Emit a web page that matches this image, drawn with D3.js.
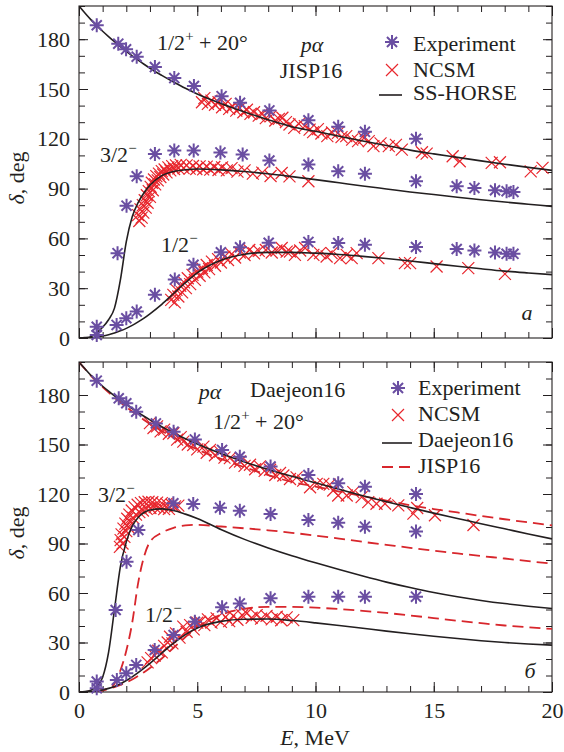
<!DOCTYPE html>
<html>
<head>
<meta charset="utf-8">
<script src="https://cdn.jsdelivr.net/npm/d3@7"></script>
<style>
  html, body { margin: 0; padding: 0; background: #fff; }
  svg { display: block; }
  text { font-family: "Liberation Serif", "Times New Roman", serif; fill: #231f20; }
</style>
</head>
<body>
<svg id="chart" width="564" height="752"></svg>
<script>
// ---- energy grid for the phase-shift curves (MeV) ----
const energyGrid = [0,0.25,0.5,0.75,1,1.25,1.5,1.75,2,2.25,2.5,2.75,3,3.5,4,4.5,5,6,7,8,9,10,11,12,13,14,15,16,17,18,19,20];

// JISP16 (SS-HORSE) phase shifts, degrees; 1/2+ already shifted by +20
const jispHalfPlus  = [200,195.8,191.8,188.2,184.8,181.6,178.5,175.5,172.7,170,167.4,164.9,162.5,158.2,154.2,150.4,147,141.3,136.2,131.5,127.3,124.5,121.5,118.7,116,113.2,110.9,108.8,106.7,104.7,102.8,101];
const jispThreeMinus = [0,0.2,0.8,3.2,6.5,11,18,35,58,73,81.5,87.5,92,97.8,100.3,101.4,101.8,101.3,100.3,98.9,97.2,95.4,93.5,91.6,89.8,88,86.4,84.8,83.3,81.9,80.6,79.3];
const jispHalfMinus = [0,0.05,0.2,0.6,1.2,2,3,4.3,5.8,7.6,9.7,12,14.6,20.3,26.8,33.3,39.2,46.8,50.4,51.6,51.6,51.1,50.3,49.2,47.9,46.4,44.8,43.2,41.7,40.3,39.2,38.2];
// JISP16 3/2- curve as drawn in the Daejeon16 comparison
const jispThreeMinusB = [0,0,0.2,0.5,1,2,5,13,25,42,66,82,91,96.5,99.5,101,101.3,100.3,99.2,98,96.5,94.8,93,91,89.2,87.4,85.7,84,82.4,80.9,79.3,77.8];

// Daejeon16 phase shifts, degrees
const daejeonHalfPlus  = [200,195.9,192,188.5,185.3,182.3,179.5,176.8,174.3,171.8,169.4,167.1,164.9,160.8,157,153.5,150.3,144.5,139.4,134.9,130.7,126.8,122.9,119,115.3,111.8,108.4,105.2,102,98.9,95.8,92.8];
const daejeonThreeMinus = [0,0.2,1,3.5,9,24,50,76,91,100.5,105.8,108.8,110.3,111,110,107.8,105.2,98.5,92.5,87.3,82.6,78.3,74.2,70.3,66.6,63.3,60.3,57.7,55.5,53.6,52,50.6];
const daejeonHalfMinus = [0,0.05,0.2,0.6,1.3,2.2,3.4,5,7,9.2,11.7,14.4,17.3,23.5,29.6,34.8,38.8,42.8,44.1,44.2,43.3,41.9,40.3,38.6,36.9,35.3,33.8,32.4,31.1,30,29.1,28.4];

// ---- experimental phase shifts [E, δ] ----
const expA_halfPlus = [[0.75,188.4],[1.66,177.3],[1.99,173.9],[2.44,169.5],[3.21,163.2],[4.03,156.6],[4.86,151.8],[6.03,145.7],[6.81,141.7],[8.05,137.1],[9.7,131.2],[10.96,127.2],[12.09,124.2],[14.25,120]];
const expA_threeMinus = [[0.75,6.8],[1.63,51.1],[2.01,79.7],[2.44,97.4],[3.21,110.8],[4.03,113],[4.85,113],[5.98,111.8],[6.92,110.5],[8.05,106.9],[9.7,104.5],[10.96,100.4],[12.09,99],[14.25,94.4],[15.97,91.4],[16.72,90.4],[17.59,89],[18.08,88.4],[18.37,88]];
const expA_halfMinus = [[0.75,1.8],[1.59,7.9],[2.0,11.9],[2.44,15.9],[3.21,26],[4.05,35.2],[4.84,44.1],[6.0,51.6],[6.81,54.6],[8.02,57.4],[9.7,57.9],[10.96,57.2],[12.09,56.2],[14.25,54.8],[15.97,53.6],[16.72,52.7],[17.59,51.5],[18.08,50.7],[18.37,50.7]];

const expB_halfPlus = [[0.75,188.7],[1.68,178],[2.0,175],[2.42,169.9],[3.25,162.8],[4.0,157.8],[4.9,153.1],[6.05,146.7],[6.8,142.6],[8.1,136.6],[9.7,131.5],[10.96,126.5],[12.09,124.4],[14.25,120]];
const expB_threeMinus = [[0.75,6.3],[1.55,49.7],[2.01,79],[2.51,98.2],[3.99,114.4],[4.83,113.9],[5.96,111.7],[6.8,109.9],[8.1,107.9],[9.7,104.2],[10.96,102.6],[12.09,100.2],[14.25,97.2]];
const expB_halfMinus = [[0.75,2.2],[1.6,7.3],[2.0,11.3],[2.42,16.4],[3.2,25.5],[4.0,34.5],[4.9,42.6],[6.05,51.3],[6.8,53.7],[8.1,56.8],[9.7,57.8],[10.96,57.8],[12.09,57.8],[14.25,57.8]];

// ---- NCSM results [E, δ], JISP16 ----
const ncsmA_halfPlus = [[5.2,142],[5.3,144.5],[5.45,141],[5.6,143],[5.75,140.5],[5.9,142],[6.05,139],[6.2,141],[6.35,138],[6.5,139.5],[6.65,137],[6.8,138.5],[6.95,136],[7.1,137.5],[7.25,135],[7.4,136],[7.6,134],[7.75,135],[7.9,132.5],[8.1,133.5],[8.3,131],[8.45,132],[8.6,132.7],[8.75,130],[8.9,128.6],[9.1,126.6],[9.3,129],[9.55,127.6],[9.75,125.5],[9.9,124],[10.1,125.8],[10.25,123.2],[10.5,121.6],[10.7,123.8],[10.95,123.6],[11.1,121],[11.3,121.6],[11.55,119.5],[11.8,118.6],[12.05,120.5],[12.25,118.6],[12.45,115.6],[12.75,117.2],[13.1,115.6],[13.4,116.3],[13.65,113.5],[14.5,111.9],[14.7,111.1],[15.8,109.5],[16.1,106.5],[17.45,105.5],[17.8,105.9],[19.1,100.4],[19.6,102.5]];
const ncsmA_threeMinus = [[2.5,74],[2.55,70.5],[2.6,77.5],[2.65,72.5],[2.7,80],[2.72,75.5],[2.78,83],[2.82,78.5],[2.87,86],[2.9,81.5],[2.95,88.5],[3.0,85],[3.03,91],[3.08,93.5],[3.12,89],[3.17,95.5],[3.22,92.5],[3.27,97.5],[3.33,95],[3.38,99],[3.44,97],[3.5,100.5],[3.56,98.5],[3.62,101.5],[3.7,99.8],[3.78,102.8],[3.86,101],[3.94,103.5],[4.02,101.8],[4.1,104],[4.2,102.2],[4.3,104.3],[4.42,102.3],[4.55,104],[4.68,102],[4.82,103.6],[4.96,101.8],[5.1,103.4],[5.25,101.6],[5.4,103.2],[5.55,101.4],[5.72,103],[5.9,101.2],[6.05,102.8],[6.25,101],[6.45,102.3],[6.7,100.2],[7.0,101],[7.35,99],[7.75,99.6],[8.1,97.6],[8.57,99.4],[8.9,97.4],[9.7,94.4]];
const ncsmA_halfMinus = [[3.9,23],[3.99,26],[4.05,21.5],[4.12,29],[4.2,25],[4.28,31.5],[4.36,27.5],[4.44,33.5],[4.52,30],[4.6,36],[4.7,32.5],[4.8,38],[4.9,35],[5.0,40],[5.1,37.5],[5.2,42],[5.3,39.5],[5.4,44],[5.5,41.5],[5.62,46],[5.75,43.5],[5.88,47.5],[6.0,45.5],[6.15,49],[6.3,47],[6.45,50.5],[6.6,48.5],[6.8,51.5],[7.0,50],[7.2,53],[7.4,51],[7.6,52.5],[7.9,53],[8.15,51.5],[8.35,52.7],[8.57,54.2],[8.78,52],[8.92,52.1],[9.13,50.1],[9.35,52.7],[9.56,54.2],[9.91,50.1],[10.19,51.1],[10.47,49.1],[10.68,51.1],[11.04,48.1],[11.32,50.1],[11.53,48.1],[11.74,51.1],[12.66,48.1],[13.78,45.1],[14.0,45.1],[15.12,43.1],[16.46,42.1],[18.01,38.6]];

// ---- NCSM results [E, δ], Daejeon16 ----
const ncsmB_halfPlus = [[3.0,163],[3.15,160],[3.3,161],[3.45,158],[3.6,159],[3.8,156.5],[3.99,156.8],[4.15,153],[4.3,154.5],[4.41,151.7],[4.6,150],[4.83,149.7],[5.0,147],[5.26,148.7],[5.4,145],[5.54,146.7],[5.75,143.5],[5.96,145.7],[6.15,142],[6.38,141.7],[6.6,139],[6.81,139.7],[7.0,137],[7.23,137.7],[7.45,135],[7.65,136.7],[7.85,134],[8.08,134.7],[8.3,131.5],[8.5,132.7],[8.64,131.2],[8.92,129.1],[9.2,130.1],[9.48,128.1],[9.77,124.1],[10.05,126.1],[10.33,126.1],[10.6,125.7],[10.75,122.1],[10.96,119.1],[11.32,119.1],[11.6,121.1],[11.95,118.1],[12.23,115.1],[12.58,114.1],[12.94,114.1],[13.5,113.1],[14.14,108.1],[14.3,111.5],[15.05,107.1],[16.68,101.2]];
const ncsmB_threeMinus = [[1.73,88],[1.76,92],[1.8,95.5],[1.84,90],[1.88,99],[1.92,94],[1.96,102],[2.0,97.5],[2.04,105],[2.08,100],[2.13,107.5],[2.18,103],[2.23,110],[2.29,105.5],[2.35,112],[2.41,107.5],[2.48,113.5],[2.55,109],[2.62,114.5],[2.7,110],[2.78,115],[2.86,111],[2.94,115.3],[3.02,111.5],[3.1,115],[3.2,112],[3.3,114.8],[3.4,111.5],[3.5,114.5],[3.6,110.8],[3.7,114],[3.8,111],[3.92,113.5],[4.06,112.5],[4.2,113]];
const ncsmB_halfMinus = [[2.9,18],[3.05,20.5],[3.2,22],[3.35,25],[3.5,24],[3.6,28],[3.75,30],[3.85,33.5],[3.95,29.5],[4.1,35.5],[4.25,33],[4.41,39.6],[4.55,36.5],[4.7,40.5],[4.85,38],[5.0,42],[5.12,42.6],[5.3,40.5],[5.45,44],[5.6,42],[5.82,44.6],[6.0,42.5],[6.2,45.5],[6.35,43],[6.52,46.1],[6.7,43.8],[6.9,46.5],[7.09,47.7],[7.3,45],[7.51,46.6],[7.7,44.5],[7.93,46.1],[8.15,44],[8.36,45.6],[8.55,43.5],[8.78,45.2],[9.06,43.6]];

// ---- axis ticks ----
const xMinorTicks = d3.range(0, 21, 1);
const xMajorTicks = [0, 5, 10, 15, 20];
const yMinorTicks = d3.range(0, 201, 10);
const yMajorTicks = [0, 30, 60, 90, 120, 150, 180];

// ---- colours ----
const EXP_COLOR = "#6a4ea2";
const NCSM_COLOR = "#e8262d";
const DASH_COLOR = "#d8262c";
const INK = "#231f20";
const FONT = 22;

const svg = d3.select("#chart");
svg.append("rect").attr("width", 564).attr("height", 752).attr("fill", "#fff");

const x = d3.scaleLinear().domain([0, 20]).range([79, 552]);

function asteriskPath(r) {
  const d = r * 0.72;
  return `M${-r},0H${r}M0,${-r}V${r}M${-d},${-d}L${d},${d}M${-d},${d}L${d},${-d}`;
}
function crossPath(r) {
  return `M${-r},${-r}L${r},${r}M${-r},${r}L${r},${-r}`;
}

// text with optional superscript / italic runs: parts = [[text, isSup, italic]]
function richText(g, xPos, yPos, parts, anchor) {
  const t = g.append("text").attr("x", xPos).attr("y", yPos)
    .attr("font-size", FONT).attr("text-anchor", anchor || "start");
  let raised = false;
  parts.forEach(([s, sup, it]) => {
    const ts = t.append("tspan").text(s);
    if (sup) { ts.attr("font-size", FONT * 0.68).attr("dy", -9); raised = true; }
    else if (raised) { ts.attr("dy", 9); raised = false; }
    if (it) ts.attr("font-style", "italic");
  });
  return t;
}

function panel(opts) {
  const y = d3.scaleLinear().domain([0, 200]).range([opts.bottom, opts.top]);
  const g = svg.append("g");
  const clipId = "clip" + opts.id;
  svg.append("clipPath").attr("id", clipId).append("rect")
    .attr("x", x(0)).attr("y", y(200)).attr("width", x(20) - x(0)).attr("height", y(0) - y(200));

  // inward ticks on all four sides
  const axes = [
    [d3.axisBottom(x).tickValues(xMinorTicks).tickSize(-6), `translate(0,${y(0)})`],
    [d3.axisBottom(x).tickValues(xMajorTicks).tickSize(-10), `translate(0,${y(0)})`],
    [d3.axisTop(x).tickValues(xMinorTicks).tickSize(-6), `translate(0,${y(200)})`],
    [d3.axisTop(x).tickValues(xMajorTicks).tickSize(-10), `translate(0,${y(200)})`],
    [d3.axisLeft(y).tickValues(yMinorTicks).tickSize(-6), `translate(${x(0)},0)`],
    [d3.axisLeft(y).tickValues(yMajorTicks).tickSize(-9), `translate(${x(0)},0)`],
    [d3.axisRight(y).tickValues(yMinorTicks).tickSize(-6), `translate(${x(20)},0)`],
    [d3.axisRight(y).tickValues(yMajorTicks).tickSize(-9), `translate(${x(20)},0)`]
  ];
  axes.forEach(([ax, tr]) => {
    const a = g.append("g").attr("transform", tr).call(ax.tickFormat(""));
    a.select(".domain").remove();
    a.selectAll("line").attr("stroke", INK).attr("stroke-width", 1);
    a.selectAll("text").remove();
  });

  // y tick labels
  const yl = g.append("g").attr("transform", `translate(${x(0)},0)`)
    .call(d3.axisLeft(y).tickValues(yMajorTicks).tickSize(0).tickPadding(9).tickFormat(d3.format("d")));
  yl.select(".domain").remove();
  yl.selectAll("text").attr("font-size", FONT).attr("font-family", "Liberation Serif, serif").attr("fill", INK);

  if (opts.xLabels) {
    const xl = g.append("g").attr("transform", `translate(0,${y(0)})`)
      .call(d3.axisBottom(x).tickValues(xMajorTicks).tickSize(0).tickPadding(10).tickFormat(d3.format("d")));
    xl.select(".domain").remove();
    xl.selectAll("text").attr("font-size", FONT).attr("font-family", "Liberation Serif, serif").attr("fill", INK);
  }

  // frame
  g.append("rect").attr("x", x(0)).attr("y", y(200))
    .attr("width", x(20) - x(0)).attr("height", y(0) - y(200))
    .attr("fill", "none").attr("stroke", INK).attr("stroke-width", 1.1);

  // y axis title
  const yt = g.append("text").attr("transform", `translate(24,${(y(0) + y(200)) / 2 + 6}) rotate(-90)`)
    .attr("text-anchor", "middle").attr("font-size", FONT);
  yt.append("tspan").attr("font-style", "italic").text("δ");
  yt.append("tspan").text(", deg");

  // NCSM crosses
  const cg = g.append("g");
  opts.ncsm.forEach(set => {
    cg.selectAll(null).data(set).enter().append("path")
      .attr("d", crossPath(6))
      .attr("transform", d => `translate(${x(d[0])},${y(d[1])})`)
      .attr("fill", "none").attr("stroke", NCSM_COLOR).attr("stroke-width", 1.2);
  });

  // curves
  const line = vals => d3.line().curve(d3.curveMonotoneX)
    .x((d, i) => x(energyGrid[i])).y(d => y(d))(vals);
  const lg = g.append("g").attr("clip-path", `url(#${clipId})`);
  (opts.dashed || []).forEach(vals => {
    lg.append("path").attr("d", line(vals)).attr("fill", "none")
      .attr("stroke", DASH_COLOR).attr("stroke-width", 1.8).attr("stroke-dasharray", "11,6");
  });
  opts.solid.forEach(vals => {
    lg.append("path").attr("d", line(vals)).attr("fill", "none")
      .attr("stroke", INK).attr("stroke-width", 1.6);
  });

  // experimental points
  const eg = g.append("g");
  opts.exp.forEach(set => {
    eg.selectAll(null).data(set).enter().append("path")
      .attr("d", asteriskPath(7))
      .attr("transform", d => `translate(${x(d[0])},${y(d[1])})`)
      .attr("fill", "none").attr("stroke", EXP_COLOR).attr("stroke-width", 2);
  });

  return { g, y };
}

// ---------- panel a: JISP16 ----------
const A = panel({
  id: "a", top: 6, bottom: 338, xLabels: false,
  ncsm: [ncsmA_halfPlus, ncsmA_threeMinus, ncsmA_halfMinus],
  solid: [jispHalfPlus, jispThreeMinus, jispHalfMinus],
  exp: [expA_halfPlus, expA_threeMinus, expA_halfMinus]
});
richText(A.g, 157, 50, [["1/2"], ["+", true], [" + 20°", false]]);
richText(A.g, 100, 162, [["3/2"], ["−", true]]);
richText(A.g, 161, 252, [["1/2"], ["−", true]]);
richText(A.g, 312, 52, [["pα", false, true]], "middle");
richText(A.g, 311, 78, [["JISP16"]], "middle");
richText(A.g, 527, 320, [["a", false, true]], "middle");

// legend a
A.g.append("path").attr("d", asteriskPath(7)).attr("transform", "translate(392,42)")
  .attr("fill", "none").attr("stroke", EXP_COLOR).attr("stroke-width", 2);
richText(A.g, 413, 51, [["Experiment"]]);
A.g.append("path").attr("d", crossPath(6)).attr("transform", "translate(392,70)")
  .attr("fill", "none").attr("stroke", NCSM_COLOR).attr("stroke-width", 1.2);
richText(A.g, 413, 77, [["NCSM"]]);
A.g.append("line").attr("x1", 379).attr("x2", 402).attr("y1", 95).attr("y2", 95)
  .attr("stroke", INK).attr("stroke-width", 1.6);
richText(A.g, 413, 100, [["SS-HORSE"]]);

// ---------- panel б: Daejeon16 ----------
const B = panel({
  id: "b", top: 362, bottom: 692, xLabels: true,
  ncsm: [ncsmB_halfPlus, ncsmB_threeMinus, ncsmB_halfMinus],
  dashed: [jispHalfPlus, jispThreeMinusB, jispHalfMinus],
  solid: [daejeonHalfPlus, daejeonThreeMinus, daejeonHalfMinus],
  exp: [expB_halfPlus, expB_threeMinus, expB_halfMinus]
});
richText(B.g, 210, 399, [["pα", false, true]], "middle");
richText(B.g, 250, 397, [["Daejeon16"]]);
richText(B.g, 213, 429, [["1/2"], ["+", true], [" + 20°", false]]);
richText(B.g, 98, 502, [["3/2"], ["−", true]]);
richText(B.g, 145, 622, [["1/2"], ["−", true]]);
richText(B.g, 530, 678, [["б", false, true]], "middle");

// legend б
B.g.append("path").attr("d", asteriskPath(7)).attr("transform", "translate(398,388)")
  .attr("fill", "none").attr("stroke", EXP_COLOR).attr("stroke-width", 2);
richText(B.g, 418, 395, [["Experiment"]]);
B.g.append("path").attr("d", crossPath(6)).attr("transform", "translate(398,415)")
  .attr("fill", "none").attr("stroke", NCSM_COLOR).attr("stroke-width", 1.2);
richText(B.g, 418, 421, [["NCSM"]]);
B.g.append("line").attr("x1", 382).attr("x2", 412).attr("y1", 443).attr("y2", 443)
  .attr("stroke", INK).attr("stroke-width", 1.6);
richText(B.g, 418, 447, [["Daejeon16"]]);
B.g.append("line").attr("x1", 382).attr("x2", 412).attr("y1", 467).attr("y2", 467)
  .attr("stroke", DASH_COLOR).attr("stroke-width", 1.8).attr("stroke-dasharray", "11,6");
richText(B.g, 418, 473, [["JISP16"]]);

// x axis title
richText(svg, 315, 745, [["E", false, true], [", MeV"]], "middle");
</script>
</body>
</html>
